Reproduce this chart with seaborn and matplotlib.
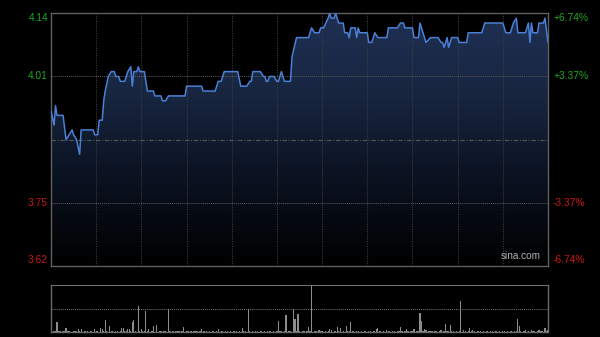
import numpy as np
import pandas as pd
import matplotlib
matplotlib.use("Agg")
import matplotlib.pyplot as plt
import seaborn as sns
from matplotlib.colors import LinearSegmentedColormap

# ---------------- data ----------------
minutes = [0, 2, 3, 4, 8, 10, 12, 14, 15, 17, 19, 20, 28, 29, 31, 32, 34, 35, 36, 38,
           40, 42, 43, 45, 46, 49, 51, 53, 54, 55, 57, 58, 59, 62, 64, 68, 69, 73, 74, 76,
           78, 89, 90, 100, 101, 109, 111, 113, 115, 124, 126, 130, 132, 133, 134, 139, 141, 142, 143, 144,
           145, 148, 150, 151, 153, 155, 159, 160, 163, 171, 172, 173, 175, 178, 179, 181, 184, 185, 186, 188,
           189, 191, 194, 195, 197, 198, 199, 202, 203, 204, 205, 210, 211, 213, 215, 217, 223, 224, 230, 232,
           234, 235, 240, 241, 244, 245, 246, 249, 252, 257, 259, 260, 261, 263, 264, 266, 270, 271, 276, 277,
           286, 288, 300, 302, 305, 307, 309, 310, 315, 317, 318, 319, 320, 323, 324, 327, 328, 330]
prices = [3.94, 3.91, 3.95, 3.93, 3.93, 3.88, 3.89, 3.90, 3.89, 3.88, 3.85, 3.90, 3.90, 3.89, 3.89, 3.92, 3.92, 3.96, 3.98, 4.01,
          4.02, 4.02, 4.01, 4.01, 4.00, 4.00, 4.02, 4.03, 3.99, 4.02, 4.02, 4.03, 4.02, 4.02, 3.98, 3.98, 3.97, 3.97, 3.96, 3.96,
          3.97, 3.97, 3.99, 3.99, 3.98, 3.98, 4.00, 4.00, 4.02, 4.02, 3.99, 3.99, 4.00, 4.00, 4.02, 4.02, 4.01, 4.01, 4.00, 4.00,
          4.01, 4.01, 4.00, 4.00, 4.02, 4.00, 4.00, 4.05, 4.09, 4.09, 4.10, 4.11, 4.10, 4.10, 4.11, 4.11, 4.13, 4.14, 4.13, 4.13,
          4.14, 4.12, 4.12, 4.10, 4.10, 4.09, 4.11, 4.11, 4.09, 4.11, 4.10, 4.10, 4.08, 4.08, 4.10, 4.09, 4.09, 4.11, 4.11, 4.12,
          4.12, 4.11, 4.11, 4.09, 4.09, 4.12, 4.11, 4.08, 4.09, 4.09, 4.08, 4.08, 4.07, 4.09, 4.07, 4.09, 4.09, 4.08, 4.08, 4.10,
          4.10, 4.12, 4.12, 4.10, 4.10, 4.12, 4.13, 4.10, 4.10, 4.12, 4.08, 4.12, 4.10, 4.10, 4.12, 4.12, 4.13, 4.08]

prev_close = 3.88
price_ticks = [3.62, 3.75, 4.01, 4.14]
left_labels = ["3.62", "3.75", "4.01", "4.14"]
right_labels = ["-6.74%", "-3.37%", "+3.37%", "+6.74%"]

# per-minute volume (relative, max = 100): small background values
small_volume = [
    2, 1, 3, 2, 1, 2, 3, 1, 2, 2, 1, 3, 2, 1, 1, 2, 3, 2, 1, 2, 2, 1, 3, 2, 2, 1, 2, 3, 1, 2,
    3, 2, 1, 2, 2, 3, 1, 2, 1, 3, 2, 2, 1, 2, 3, 1, 2, 2, 1, 3, 2, 1, 2, 2, 3, 1, 2, 1, 2, 2,
    1, 2, 3, 1, 2, 2, 1, 3, 2, 1, 2, 1, 2, 3, 1, 2, 2, 1, 2, 3, 1, 2, 1, 2, 2, 3, 1, 2, 2, 1,
    2, 3, 1, 2, 1, 2, 2, 3, 1, 2, 1, 2, 3, 2, 1, 2, 1, 2, 2, 1, 3, 2, 1, 2, 2, 1, 2, 3, 1, 2,
    1, 2, 2, 3, 1, 2, 1, 2, 3, 2, 1, 2, 2, 1, 3, 1, 2, 2, 1, 2, 3, 1, 2, 1, 2, 2, 3, 1, 2, 1,
    2, 1, 3, 2, 1, 2, 2, 1, 3, 2, 1, 2, 1, 2, 3, 2, 1, 2, 2, 1, 3, 1, 2, 2, 1, 2, 3, 1, 2, 2,
    3, 1, 2, 1, 2, 2, 3, 1, 2, 2, 1, 2, 3, 1, 2, 1, 2, 2, 3, 1, 2, 2, 1, 3, 2, 1, 2, 1, 2, 3,
    1, 2, 2, 1, 3, 2, 1, 2, 2, 3, 1, 2, 1, 2, 2, 3, 1, 2, 2, 1, 2, 3, 1, 2, 1, 2, 3, 2, 1, 2,
    2, 3, 1, 2, 2, 1, 2, 3, 1, 2, 1, 2, 2, 3, 1, 2, 2, 1, 3, 2, 1, 2, 1, 2, 3, 1, 2, 2, 1, 2,
    1, 2, 3, 1, 2, 2, 1, 2, 3, 2, 1, 2, 1, 3, 2, 2, 1, 2, 1, 2, 3, 1, 2, 2, 1, 3, 2, 1, 2, 1,
    2, 2, 1, 3, 1, 2, 2, 1, 2, 3, 1, 2, 2, 1, 2, 3, 1, 2, 1, 2, 2, 3, 1, 2, 1, 2, 2, 1, 3, 2,
    4]
# notable volume bars
big_vol_minutes = [4, 10, 18, 20, 29, 33, 34, 36, 39, 47, 48, 51, 52, 54, 55, 58, 60, 63, 65, 68,
                   70, 78, 88, 100, 111, 127, 131, 151, 156, 161, 162, 164, 171, 173, 178, 185, 186, 190, 192, 196,
                   199, 216, 217, 223, 232, 236, 241, 245, 246, 248, 249, 259, 262, 265, 272, 274, 278, 280, 310, 311,
                   315, 319, 324, 328]
big_vol_values = [21, 9, 6, 7, 7, 9, 6, 26, 13, 9, 9, 6, 6, 21, 26, 55, 7, 45, 7, 13,
                  15, 49, 11, 6, 7, 9, 49, 24, 36, 49, 28, 38, 11, 100, 4, 6, 5, 11, 9, 13,
                  21, 6, 8, 4, 11, 6, 6, 40, 24, 7, 4, 5, 17, 14, 66, 5, 8, 5, 28, 13,
                  4, 4, 4, 9]

volume = list(small_volume)
for m, v in zip(big_vol_minutes, big_vol_values):
    volume[m] = v

# ---------------- style ----------------
sns.set_style("dark", {"axes.facecolor": "black", "figure.facecolor": "black"})
plt.rcParams['font.family'] = ['Liberation Sans', 'DejaVu Sans']

W, H = 600, 337
fig = plt.figure(figsize=(W / 100, H / 100), dpi=100, facecolor="black")
ax = fig.add_axes([51 / W, (H - 266) / H, 497 / W, 252.7 / H])
axv = fig.add_axes([51 / W, (H - 332) / H, 497 / W, 47 / H])

df = pd.DataFrame({"minute": minutes, "price": prices})
vdf = pd.DataFrame({"minute": np.arange(len(volume)), "volume": volume})

ymin, ymax = price_ticks[0], price_ticks[-1]
xmax = 330

# gradient area under the line
poly = ax.fill_between(df["minute"], df["price"], ymin, color="none", linewidth=0)
cmap = LinearSegmentedColormap.from_list("g", ["#000000", "#0a111f", "#17253f", "#1f3054"])
grad = np.linspace(0, 1, 256).reshape(-1, 1)
im = ax.imshow(grad, extent=[0, xmax, ymin, ymax], origin="lower", aspect="auto",
               cmap=cmap, zorder=1)
im.set_clip_path(poly.get_paths()[0], ax.transData)

# grid
for gx in range(30, 330, 30):
    ax.axvline(gx, color="#3c3c3c", lw=0.8, ls=(0, (1, 1.2)), zorder=2)
for gy in (price_ticks[1], price_ticks[2]):
    ax.axhline(gy, color="#5a5a5a", lw=0.7, ls=(0, (1, 1)), zorder=2)
ax.axhline(prev_close, color="#555555", lw=0.8, ls=(0, (4, 1.5, 1, 1.5)), zorder=2)

sns.lineplot(data=df, x="minute", y="price", ax=ax, color="#4a80d6", linewidth=1.1, zorder=3)

ax.set_xlim(0, xmax)
ax.set_ylim(ymin, ymax)
ax.set_xticks([])
ax.set_yticks([])
ax.set_xlabel("")
ax.set_ylabel("")
ax.grid(False)
for s in ax.spines.values():
    s.set_visible(True)
    s.set_color("#5f5f5f")
    s.set_linewidth(1.0)

green, red = "#1fa51f", "#cc1414"
offsets = [6, 0, 0, -5]
for val, ll, rl, off in zip(price_ticks, left_labels, right_labels, offsets):
    col = green if val > prev_close else red
    ax.annotate(ll, xy=(0, val), xycoords=("axes fraction", "data"),
                xytext=(-3, off), textcoords="offset pixels", ha="right", va="center",
                color=col, fontsize=7.4)
    ax.annotate(rl, xy=(1, val), xycoords=("axes fraction", "data"),
                xytext=(5, off), textcoords="offset pixels", ha="left", va="center",
                color=col, fontsize=7.4)

ax.text(0.985, 0.02, "sina.com", transform=ax.transAxes, ha="right", va="bottom",
        color="#b0b0b0", fontsize=7.2, zorder=4)

# volume panel
axv.bar(vdf["minute"], vdf["volume"], width=0.8, color="#8c8c8c", linewidth=0)
axv.set_xlim(0, xmax)
axv.set_ylim(0, 100)
axv.set_xticks([])
axv.set_yticks([])
axv.grid(False)
axv.axhline(50, color="#777777", lw=0.7, ls=(0, (1, 1)))
for k in ("left", "right", "bottom"):
    axv.spines[k].set_visible(True)
    axv.spines[k].set_color("#6a6a6a")
    axv.spines[k].set_linewidth(1.0)
axv.spines["top"].set_visible(True)
axv.spines["top"].set_color("#777777")
axv.spines["top"].set_linewidth(0.7)
axv.spines["top"].set_linestyle((0, (1, 1)))

fig.savefig("out.png", dpi=100, facecolor="black")
